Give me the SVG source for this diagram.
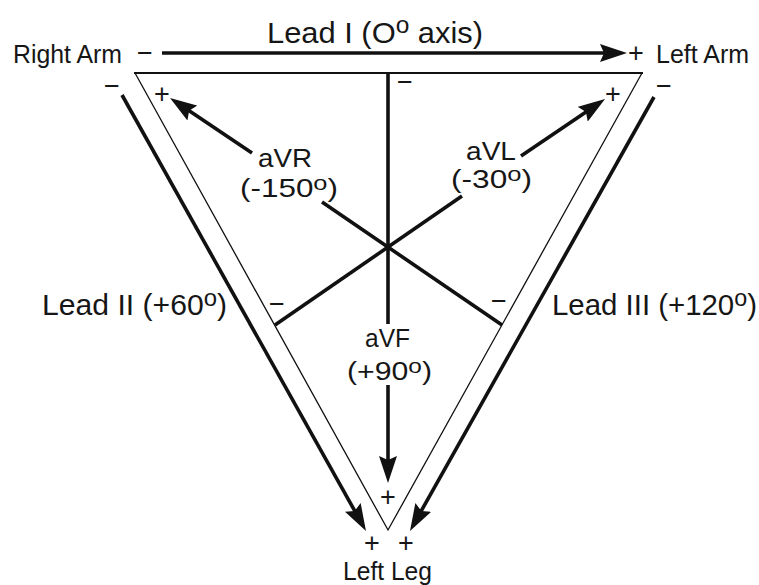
<svg xmlns="http://www.w3.org/2000/svg" width="759" height="585" viewBox="0 0 759 585">
<style>
text{font-family:"Liberation Sans",Arial,sans-serif;fill:#161616}
.lbl{font-size:25px}
.lead{font-size:29px}
.av{font-size:26px}
.sg{font-size:27px;text-anchor:middle}
.thick{stroke:#111;stroke-width:3.6;fill:none}
.thin{stroke:#111;stroke-width:1.3;fill:none}
</style>
<defs>
<marker id="ah" markerUnits="userSpaceOnUse" markerWidth="28" markerHeight="18" refX="8" refY="9" orient="auto" viewBox="0 0 28 18">
<path d="M0,0 L27,9 L0,18 L4,9 z" fill="#111"/>
</marker>
</defs>
<rect width="759" height="585" fill="#fff"/>
<g id="connectors">
<polyline class="thin" points="135,73 388,530 642,73"/>
<line x1="134" y1="73" x2="643" y2="73" stroke="#111" stroke-width="2.2"/>
<line class="thick" x1="162" y1="53" x2="608" y2="53" marker-end="url(#ah)"/>
<line class="thick" x1="122" y1="95" x2="356.7" y2="514.4" marker-end="url(#ah)"/>
<line class="thick" x1="654" y1="97" x2="419.3" y2="514.4" marker-end="url(#ah)"/>
<line class="thick" x1="388" y1="73" x2="388" y2="324"/>
<line class="thick" x1="388" y1="385" x2="388" y2="464" marker-end="url(#ah)"/>
<line class="thick" x1="322" y1="202" x2="502" y2="325"/>
<line class="thick" x1="252" y1="153" x2="185.8" y2="108.6" marker-end="url(#ah)"/>
<line class="thick" x1="275" y1="325" x2="462" y2="196"/>
<line class="thick" x1="521" y1="156" x2="589.3" y2="109.7" marker-end="url(#ah)"/>
</g>
<g id="right-arm">
<text class="lbl" x="13" y="63" textLength="109" lengthAdjust="spacingAndGlyphs">Right Arm</text>
<text class="sg" x="145" y="62">−</text>
<text class="sg" x="112" y="95">−</text>
<text class="sg" x="162" y="103">+</text>
</g>
<g id="left-arm">
<text class="lbl" x="656" y="63" textLength="93" lengthAdjust="spacingAndGlyphs">Left Arm</text>
<text class="sg" x="636" y="62">+</text>
<text class="sg" x="664" y="95">−</text>
<text class="sg" x="613" y="103">+</text>
</g>
<g id="left-leg">
<text class="lbl" x="343" y="580" textLength="89" lengthAdjust="spacingAndGlyphs">Left Leg</text>
<text class="sg" x="372" y="552">+</text>
<text class="sg" x="406" y="552">+</text>
<text class="sg" x="388" y="506">+</text>
</g>
<g id="lead-i">
<text class="lead" x="267" y="43" textLength="216" lengthAdjust="spacingAndGlyphs">Lead I (O<tspan font-size="23" dy="-10">o</tspan><tspan dy="10"> axis)</tspan></text>
</g>
<g id="lead-ii">
<text class="lead" x="42" y="315" textLength="185" lengthAdjust="spacingAndGlyphs">Lead II (+60<tspan font-size="23" dy="-9">o</tspan><tspan dy="9">)</tspan></text>
</g>
<g id="lead-iii">
<text class="lead" x="552" y="315" textLength="205" lengthAdjust="spacingAndGlyphs">Lead III (+120<tspan font-size="23" dy="-9">o</tspan><tspan dy="9">)</tspan></text>
</g>
<g id="avr">
<text class="av" x="258" y="167" textLength="54" lengthAdjust="spacingAndGlyphs">aVR</text>
<text class="av" x="240" y="197" textLength="98" lengthAdjust="spacingAndGlyphs">(-150<tspan font-size="21" dy="-7">o</tspan><tspan dy="7">)</tspan></text>
<text class="sg" x="499" y="310">−</text>
</g>
<g id="avl">
<text class="av" x="466" y="160" textLength="50" lengthAdjust="spacingAndGlyphs">aVL</text>
<text class="av" x="451" y="188" textLength="81" lengthAdjust="spacingAndGlyphs">(-30<tspan font-size="21" dy="-7">o</tspan><tspan dy="7">)</tspan></text>
<text class="sg" x="277" y="313">−</text>
</g>
<g id="avf">
<text class="av" x="365" y="347" textLength="45" lengthAdjust="spacingAndGlyphs">aVF</text>
<text class="av" x="347" y="380" textLength="85" lengthAdjust="spacingAndGlyphs">(+90<tspan font-size="21" dy="-7">o</tspan><tspan dy="7">)</tspan></text>
<text class="sg" x="405" y="91">−</text>
</g>
</svg>
